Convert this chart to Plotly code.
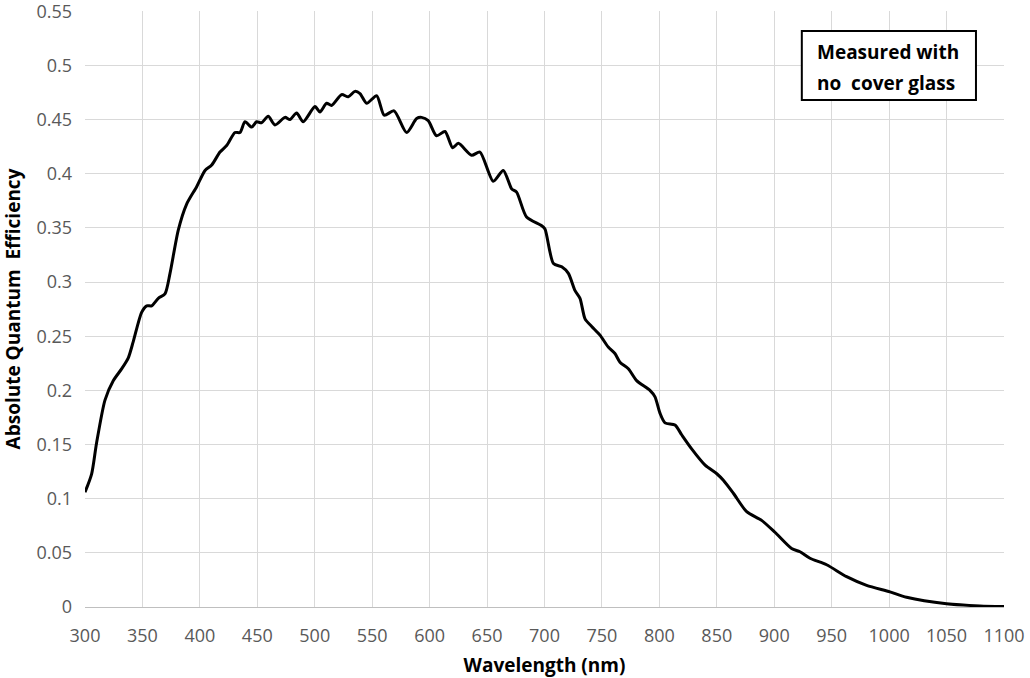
import plotly.graph_objects as go

LINE_COLOR = "#000000"
TICK_COLOR = "#595959"
GRID_COLOR = "#d9d9d9"
AXIS_COLOR = "#bfbfbf"
FONT = "Open Sans, Liberation Sans, sans-serif"

wavelength = [
    300, 305.8, 310, 317.4, 324.7, 332, 337.7, 342, 349.3, 353.7, 358, 363.8, 369.6,
    374, 381.2, 388.5, 397.2, 404.5, 410.3, 417.5, 423.3, 430.6, 434.9, 439.3, 445.1,
    449.4, 453.7, 459.5, 465.4, 474.1, 478.4, 484.2, 490, 500.2, 504.5, 510.3, 514.7,
    523.4, 529.2, 535, 539.4, 545.2, 553.9, 560.5, 569, 580, 588.7, 593, 598.8, 606,
    613.4, 620, 625, 636.6, 643.8, 655.4, 664.1, 671.4, 675.7, 684.4, 697.5, 700.4,
    707.8, 715, 720.8, 726.6, 730.9, 735.3, 741.1, 748.3, 755.5, 761.3, 765.7, 773,
    780.2, 791.8, 796.2, 800.5, 804.9, 813.6, 819.4, 828.1, 839.8, 850, 855.7, 864.4,
    876, 889, 900.6, 915.1, 922.4, 931.1, 945.6, 963, 980.4, 1000.7, 1015.2, 1050,
    1079, 1100,
]
efficiency = [
    0.106, 0.123, 0.151, 0.191, 0.209, 0.220, 0.230, 0.245, 0.272, 0.278, 0.278, 0.285,
    0.289, 0.308, 0.348, 0.372, 0.388, 0.403, 0.408, 0.420, 0.426, 0.438, 0.438, 0.448,
    0.443, 0.448, 0.447, 0.453, 0.445, 0.452, 0.450, 0.456, 0.448, 0.462, 0.457, 0.465,
    0.463, 0.473, 0.471, 0.476, 0.474, 0.465, 0.472, 0.454, 0.458, 0.438, 0.451, 0.452,
    0.449, 0.435, 0.439, 0.424, 0.428, 0.417, 0.420, 0.393, 0.403, 0.386, 0.383, 0.360,
    0.352, 0.349, 0.317, 0.314, 0.308, 0.292, 0.285, 0.266, 0.259, 0.251, 0.240, 0.234,
    0.226, 0.220, 0.209, 0.200, 0.194, 0.179, 0.170, 0.168, 0.159, 0.146, 0.131, 0.123,
    0.117, 0.105, 0.088, 0.080, 0.069, 0.054, 0.051, 0.045, 0.039, 0.028, 0.020, 0.014,
    0.009, 0.003, 0.001, 0.0005,
]

x_ticks = list(range(300, 1101, 50))
y_ticks = [round(i * 0.05, 2) for i in range(12)]
y_labels = ["0" if v == 0 else f"{v:g}" for v in y_ticks]

fig = go.Figure(
    go.Scatter(
        x=wavelength,
        y=efficiency,
        mode="lines",
        line=dict(color=LINE_COLOR, width=3, shape="spline", smoothing=0.7),
        showlegend=False,
    )
)

# note box: rectangle plus two left-aligned lines of text
fig.add_shape(
    type="rect", xref="paper", yref="paper",
    x0=0.780, x1=0.9695, y0=0.8507, y1=0.9664,
    line=dict(color="#000000", width=2), fillcolor="#ffffff", layer="above",
)
for text, y in [("Measured with", 0.9312), ("no\u00a0 cover glass", 0.8792)]:
    fig.add_annotation(
        xref="paper", yref="paper", x=0.7943, y=y,
        xanchor="left", yanchor="middle",
        text=f"<b>{text}</b>", showarrow=False,
        font=dict(family=FONT, size=19, color="#000000"),
    )

fig.update_layout(
    width=1030,
    height=678,
    margin=dict(l=85, r=26, t=11, b=71, autoexpand=False),
    paper_bgcolor="#ffffff",
    plot_bgcolor="#ffffff",
    font=dict(family=FONT, size=17, color=TICK_COLOR),
)
fig.update_xaxes(
    range=[300, 1100],
    tickvals=x_ticks,
    ticks="",
    showgrid=True,
    gridcolor=GRID_COLOR,
    gridwidth=1,
    showline=True,
    linecolor=AXIS_COLOR,
    zeroline=False,
    automargin=False,
    ticklabeloverflow="allow",
    ticklabelstandoff=12,
    tickfont=dict(size=18, color=TICK_COLOR),
    title=dict(text="<b>Wavelength (nm)</b>", font=dict(size=19, color="#000000")),
)
fig.update_yaxes(
    range=[0, 0.5502],
    tickvals=y_ticks,
    ticktext=y_labels,
    ticks="",
    showgrid=True,
    gridcolor=GRID_COLOR,
    gridwidth=1,
    showline=False,
    zeroline=False,
    automargin=False,
    ticklabeloverflow="allow",
    ticklabelstandoff=12,
    tickfont=dict(size=18, color=TICK_COLOR),
    title=dict(text="<b>Absolute Quantum\u00a0 Efficiency</b>", font=dict(size=19, color="#000000")),
)

# drop the default page margin so the 1030x678 figure fills the window exactly
fig.write_html(
    "out.html",
    config={"displayModeBar": False},
    post_script="document.body.style.margin='0';",
)
